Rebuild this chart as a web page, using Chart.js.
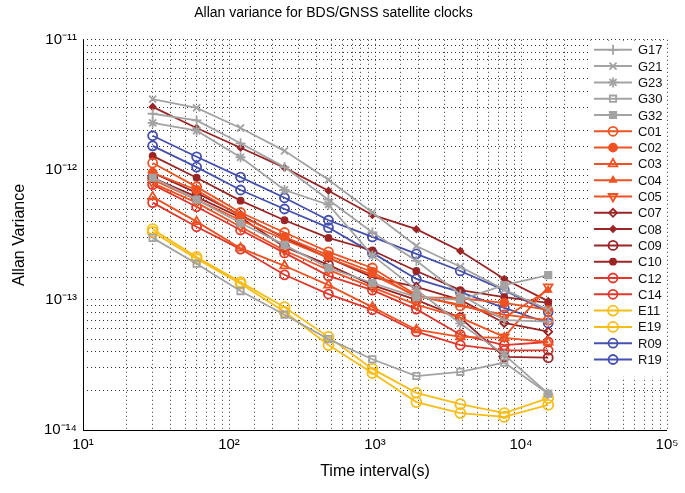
<!DOCTYPE html>
<html>
<head>
<meta charset="utf-8">
<script src="https://cdn.jsdelivr.net/npm/chart.js@4.4.0/dist/chart.umd.min.js"></script>
<style>
  html, body { margin: 0; padding: 0; background: #fff; }
  #wrap { width: 685px; height: 493px; }
</style>
</head>
<body>
<div id="wrap"><canvas id="myChart"></canvas></div>
<script>
// averaging times (s)
const taus = [30, 60, 120, 240, 480, 960, 1920, 3840, 7680, 15360];

// Allan variance
const g17 = [2.7e-12, 2.4e-12, 1.6e-12, 1.05e-12, 5.9e-13, 3.3e-13, 2.0e-13, 1.1e-13, 7.0e-14, 6.8e-14];
const g21 = [3.5e-12, 3.0e-12, 2.1e-12, 1.4e-12, 8.4e-13, 4.7e-13, 2.6e-13, 1.8e-13, 1.2e-13, 8.4e-14];
const g23 = [2.3e-12, 2.0e-12, 1.25e-12, 7.0e-13, 5.4e-13, 2.2e-13, 1.2e-13, 6.6e-14, 3.8e-14, 1.9e-14];
const g30 = [3.0e-13, 1.9e-13, 1.17e-13, 7.7e-14, 5.0e-14, 3.5e-14, 2.6e-14, 2.8e-14, 3.3e-14, 1.9e-14];
const g32 = [8.7e-13, 5.9e-13, 3.9e-13, 2.65e-13, 1.76e-13, 1.35e-13, 1.05e-13, 1.0e-13, 1.3e-13, 1.55e-13];
const c01 = [1.13e-12, 7.4e-13, 4.7e-13, 3.3e-13, 2.34e-13, 1.76e-13, 1.09e-13, 9.0e-14, 7.7e-14, 7.0e-14];
const c02 = [9.5e-13, 7.0e-13, 4.4e-13, 3.05e-13, 2.2e-13, 1.64e-13, 1.05e-13, 1.03e-13, 9.5e-14, 8.4e-14];
const c03 = [6.2e-13, 4.0e-13, 2.5e-13, 1.83e-13, 1.3e-13, 8.8e-14, 5.9e-14, 5.2e-14, 5.1e-14, 4.75e-14];
const c04 = [8.4e-13, 5.9e-13, 4.1e-13, 2.9e-13, 2.1e-13, 1.56e-13, 1.07e-13, 9.2e-14, 7.3e-14, 1.19e-13];
const c05 = [7.9e-13, 5.6e-13, 3.65e-13, 2.4e-13, 1.7e-13, 1.25e-13, 9.2e-14, 7.3e-14, 5.2e-14, 1.26e-13];
const c07 = [9.5e-13, 6.65e-13, 4.5e-13, 3.0e-13, 2.1e-13, 1.5e-13, 1.26e-13, 1.0e-13, 6.65e-14, 5.7e-14];
const c08 = [3.05e-12, 2.1e-12, 1.48e-12, 1.04e-12, 6.9e-13, 4.5e-13, 3.5e-13, 2.38e-13, 1.45e-13, 9.8e-14];
const c09 = [8.7e-13, 6.2e-13, 4.3e-13, 2.56e-13, 1.86e-13, 1.3e-13, 1.0e-13, 7.3e-14, 3.65e-14, 3.6e-14];
const c10 = [1.28e-12, 8.7e-13, 5.8e-13, 4.1e-13, 3.0e-13, 2.4e-13, 1.67e-13, 1.19e-13, 1.05e-13, 9.5e-14];
const c12 = [7.7e-13, 5.2e-13, 3.45e-13, 2.3e-13, 1.53e-13, 1.19e-13, 8.5e-14, 5.4e-14, 4.5e-14, 4.75e-14];
const c14 = [5.6e-13, 3.65e-13, 2.46e-13, 1.56e-13, 1.11e-13, 8.4e-14, 5.7e-14, 4.5e-14, 4.1e-14, 4.1e-14];
const e11 = [3.5e-13, 2.14e-13, 1.37e-13, 8.8e-14, 5.2e-14, 2.95e-14, 1.93e-14, 1.58e-14, 1.35e-14, 1.76e-14];
const e19 = [3.33e-13, 2.07e-13, 1.33e-13, 8.1e-14, 4.5e-14, 2.74e-14, 1.64e-14, 1.35e-14, 1.26e-14, 1.56e-14];
const r09 = [1.83e-12, 1.26e-12, 8.8e-13, 6.1e-13, 4.1e-13, 3.05e-13, 2.26e-13, 1.67e-13, 1.19e-13, 8.1e-14];
const r19 = [1.53e-12, 1.05e-12, 7.0e-13, 5.0e-13, 3.6e-13, 2.3e-13, 1.45e-13, 1.15e-13, 8.7e-14, 6.65e-14];

const xTicks = [1e1, 1e2, 1e3, 1e4, 1e5];
const xTickLabels = ["10¹", "10²", "10³", "10⁴", "10⁵"];
const yTicks = [1e-14, 1e-13, 1e-12, 1e-11];
const yTickLabels = ["10⁻¹⁴", "10⁻¹³", "10⁻¹²", "10⁻¹¹"];

// colours
const GRAY = "#a3a3a3", ORANGE = "#ef5222", DARK = "#9b2525", RED = "#e2382b", YELLOW = "#f9bd17", BLUE = "#4551b1";
const NONE = "rgba(255,255,255,0)";

// label, values, colour, marker, filled, radius, rotation
const series = [
  ["G17", g17, GRAY, "cross", false, 5, 0],
  ["G21", g21, GRAY, "crossRot", false, 5, 0],
  ["G23", g23, GRAY, "star", false, 5, 0],
  ["G30", g30, GRAY, "rect", false, 4.5, 0],
  ["G32", g32, GRAY, "rect", true, 4.5, 0],
  ["C01", c01, ORANGE, "circle", false, 4.5, 0],
  ["C02", c02, ORANGE, "circle", true, 4, 0],
  ["C03", c03, ORANGE, "triangle", false, 5, 0],
  ["C04", c04, ORANGE, "triangle", true, 3.5, 0],
  ["C05", c05, ORANGE, "triangle", false, 5, 180],
  ["C07", c07, DARK, "rectRot", false, 4, 0],
  ["C08", c08, DARK, "rectRot", true, 3, 0],
  ["C09", c09, DARK, "circle", false, 4.5, 0],
  ["C10", c10, DARK, "circle", true, 3, 0],
  ["C12", c12, RED, "circle", false, 4.5, 0],
  ["C14", c14, RED, "circle", false, 4.5, 0],
  ["E11", e11, YELLOW, "circle", false, 5, 0],
  ["E19", e19, YELLOW, "circle", false, 5, 0],
  ["R09", r09, BLUE, "circle", false, 4.5, 0],
  ["R19", r19, BLUE, "circle", false, 4.5, 0]
];

const datasets = series.map(s => ({
  label: s[0],
  data: s[1].map((v, i) => ({ x: taus[i], y: v })),
  borderColor: s[2],
  backgroundColor: s[2],
  borderWidth: 1.8,
  pointStyle: s[3],
  pointBackgroundColor: s[4] ? s[2] : NONE,
  pointBorderColor: s[2],
  pointBorderWidth: 1.8,
  pointRadius: s[5],
  pointRotation: s[6],
  tension: 0
}));

function isDecade(v) {
  const l = Math.log10(v);
  return Math.abs(l - Math.round(l)) < 1e-6;
}

// legend box inside the plot, top right
const boxLegend = {
  id: "boxLegend",
  afterDraw(chart) {
    const ctx = chart.ctx, area = chart.chartArea;
    const left = 588, top = area.top + 1, right = area.right - 2, rowH = 16.3;
    ctx.save();
    ctx.fillStyle = "#fff";
    ctx.fillRect(left, top, right - left, rowH * series.length + 10);
    ctx.font = "13px 'Liberation Sans', Arial, sans-serif";
    ctx.textBaseline = "middle";
    chart.data.datasets.forEach((ds, i) => {
      const y = top + 9 + i * rowH;
      ctx.strokeStyle = ds.borderColor;
      ctx.lineWidth = 2;
      ctx.beginPath();
      ctx.moveTo(594, y);
      ctx.lineTo(632, y);
      ctx.stroke();
      ctx.fillStyle = ds.pointBackgroundColor;
      ctx.lineWidth = 1.8;
      Chart.helpers.drawPoint(ctx, {
        pointStyle: ds.pointStyle, radius: ds.pointRadius,
        rotation: ds.pointRotation, borderWidth: 1.8
      }, 613, y);
      ctx.fillStyle = "#111";
      ctx.fillText(ds.label, 638, y + 1);
    });
    ctx.restore();
    // frame
    ctx.save();
    ctx.strokeStyle = "#000";
    ctx.lineWidth = 1;
    ctx.beginPath();
    ctx.moveTo(area.left + 0.5, area.top);
    ctx.lineTo(area.left + 0.5, area.bottom + 0.5);
    ctx.lineTo(area.right, area.bottom + 0.5);
    ctx.stroke();
    ctx.restore();
  }
};

const gridOpts = { color: "rgba(0,0,0,0.8)", lineWidth: 1, drawTicks: false };

new Chart(document.getElementById("myChart"), {
  type: "line",
  data: { datasets: datasets },
  options: {
    responsive: true,
    maintainAspectRatio: false,
    animation: false,
    layout: { padding: { right: 18 } },
    scales: {
      x: {
        type: "logarithmic",
        min: 10,
        max: 1e5,
        grid: gridOpts,
        border: { display: false, dash: [1, 3] },
        afterFit: s => { s.height = 63; },
        ticks: {
          color: "#000",
          padding: 6,
          autoSkip: false,
          maxRotation: 0,
          font: { family: "'Liberation Sans', Arial, sans-serif", size: 15 },
          callback: v => isDecade(v) ? xTickLabels[xTicks.findIndex(t => Math.abs(t - v) / t < 1e-6)] : ""
        },
        title: {
          display: true,
          text: "Time interval(s)",
          color: "#000",
          padding: { top: 0, bottom: 12 },
          font: { family: "'Liberation Sans', Arial, sans-serif", size: 16 }
        }
      },
      y: {
        type: "logarithmic",
        min: 1e-14,
        max: 1e-11,
        grid: gridOpts,
        border: { display: false, dash: [1, 3] },
        afterFit: s => { s.width = 83; },
        ticks: {
          color: "#000",
          padding: 6,
          autoSkip: false,
          font: { family: "'Liberation Sans', Arial, sans-serif", size: 15 },
          callback: v => isDecade(v) ? yTickLabels[yTicks.findIndex(t => Math.abs(t - v) / t < 1e-6)] : ""
        },
        title: {
          display: true,
          text: "Allan Variance",
          color: "#000",
          padding: { top: 10, bottom: 0 },
          font: { family: "'Liberation Sans', Arial, sans-serif", size: 16 }
        }
      }
    },
    plugins: {
      legend: { display: false },
      tooltip: { enabled: false },
      title: {
        display: true,
        text: "Allan variance for BDS/GNSS satellite clocks",
        color: "#000",
        padding: { top: 5, bottom: 18 },
        font: { family: "'Liberation Sans', Arial, sans-serif", size: 14, weight: "normal" }
      }
    }
  },
  plugins: [boxLegend]
});
</script>
</body>
</html>
